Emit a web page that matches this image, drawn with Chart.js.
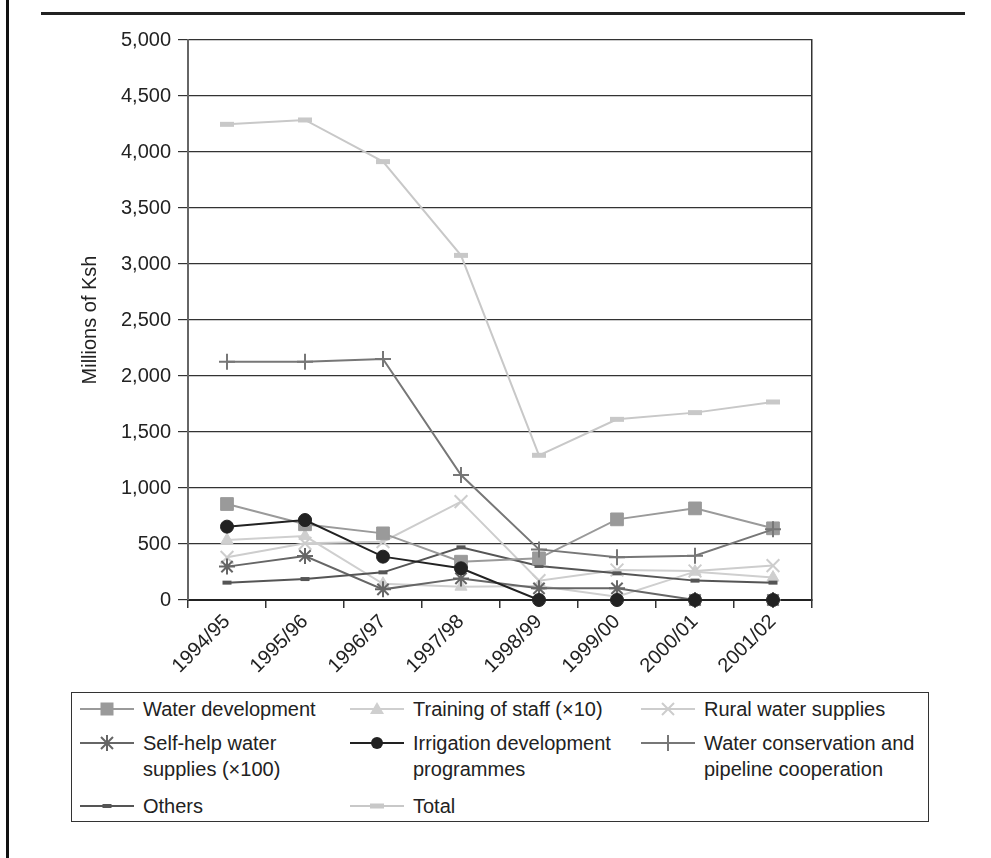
<!DOCTYPE html>
<html>
<head>
<meta charset="utf-8">
<script src="https://cdn.jsdelivr.net/npm/chart.js@4.4.1/dist/chart.umd.min.js"></script>
<style>
    body { margin: 0; background: #fff; font-family: "Liberation Sans", Arial, sans-serif; color: #222; }
    #wrap { position: relative; width: 991px; height: 858px; overflow: hidden; }
    #chartBox { position: absolute; left: 0; top: 0; }
    #topRule { position: absolute; left: 41px; top: 12px; width: 924px; height: 0; border-top: 3px solid #222; }
    #leftRule { position: absolute; left: 6px; top: 0; width: 3px; height: 858px; background: #111; }
    #legend { position: absolute; left: 71px; top: 692px; width: 856px; height: 128px; border: 1.5px solid #333; }
    .item { position: absolute; display: flex; align-items: flex-start; font-size: 20px; line-height: 26px; }
    .item svg { flex: none; margin-top: 3px; }
    .item span { margin-left: 9px; white-space: nowrap; }
</style>
</head>
<body>
<div id="wrap">
    <div id="leftRule"></div>
    <div id="topRule"></div>
    <canvas id="chartBox" width="991" height="690"></canvas>
    <div id="legend"></div>
</div>
<script>
const years = ["1994/95", "1995/96", "1996/97", "1997/98", "1998/99", "1999/00", "2000/01", "2001/02"];

const waterDevelopment = [857, 676, 595, 342, 372, 720, 818, 640];
const trainingOfStaff = [536, 571, 145, 119, 125, 30, 253, 200];
const ruralWaterSupplies = [381, 506, 521, 878, 173, 268, 259, 307];
const selfHelpSupplies = [298, 393, 95, 193, 104, 104, 0, 0];
const irrigationProgrammes = [655, 714, 387, 283, 0, 0, 0, 0];
const waterConservation = [2128, 2128, 2152, 1116, 452, 381, 396, 631];
const others = [155, 187, 247, 470, 304, 238, 173, 155];
const total = [4247, 4286, 3914, 3077, 1292, 1613, 1673, 1768];

// styles and legend slots, kept apart from the values
const series = [
    { label: ["Water development"], data: waterDevelopment, color: "#9a9a9a", shape: "rect", r: 9, bw: 1, order: 3, col: 0, row: 0 },
    { label: ["Training of staff (\u00d710)"], data: trainingOfStaff, color: "#cfcfcf", shape: "triangle", r: 7, bw: 1, order: 7, col: 1, row: 0 },
    { label: ["Rural water supplies"], data: ruralWaterSupplies, color: "#cdcdcd", shape: "crossRot", r: 9, bw: 2, order: 6, col: 2, row: 0 },
    { label: ["Self-help water", "supplies (\u00d7100)"], data: selfHelpSupplies, color: "#666666", shape: "star", r: 8, bw: 2, order: 5, col: 0, row: 1 },
    { label: ["Irrigation development", "programmes"], data: irrigationProgrammes, color: "#222222", shape: "circle", r: 6.5, bw: 1, order: 1, col: 1, row: 1 },
    { label: ["Water conservation and", "pipeline cooperation"], data: waterConservation, color: "#777777", shape: "cross", r: 8, bw: 2, order: 2, col: 2, row: 1 },
    { label: ["Others"], data: others, color: "#555555", shape: "line", r: 4.5, bw: 4, order: 4, col: 0, row: 2 },
    { label: ["Total"], data: total, color: "#c8c8c8", shape: "line", r: 7, bw: 5, order: 8, col: 1, row: 2 }
];

const FONT = "'Liberation Sans', Arial, sans-serif";

new Chart(document.getElementById("chartBox"), {
    type: "line",
    data: {
        labels: years,
        datasets: series.map(s => ({
            label: s.label.join(" "),
            data: s.data,
            borderColor: s.color,
            borderWidth: 2,
            backgroundColor: s.color,
            pointStyle: s.shape,
            pointRadius: s.r,
            pointBorderWidth: s.bw,
            pointBorderColor: s.color,
            pointBackgroundColor: s.color,
            tension: 0,
            clip: false,
            order: s.order
        }))
    },
    options: {
        responsive: false,
        animation: false,
        layout: { padding: { left: 74, right: 179, top: 40, bottom: 0 } },
        plugins: { legend: { display: false }, tooltip: { enabled: false } },
        scales: {
            x: {
                offset: true,
                afterFit: s => { s.height = 90; },
                grid: { offset: true, drawOnChartArea: false, tickLength: 8, color: "#333", lineWidth: 1.5 },
                border: { color: "#222", width: 2 },
                ticks: { minRotation: 45, maxRotation: 45, padding: 2, color: "#222", font: { family: FONT, size: 20 } }
            },
            y: {
                min: 0,
                max: 5000,
                afterFit: s => { s.width = 114; },
                grid: { color: "#333", lineWidth: 1.2, tickLength: 10 },
                border: { color: "#666", width: 2 },
                ticks: {
                    stepSize: 500,
                    padding: 7,
                    color: "#222",
                    font: { family: FONT, size: 20 },
                    callback: v => v.toLocaleString("en-US")
                },
                title: { display: true, text: "Millions of Ksh", color: "#222", font: { family: FONT, size: 20 }, padding: { top: 4, bottom: 0 } }
            },
            y2: {
                position: "right",
                min: 0,
                max: 5000,
                afterFit: s => { s.width = 0; },
                grid: { drawOnChartArea: false, drawTicks: false },
                border: { display: true, color: "#333", width: 1.5 },
                ticks: { display: false }
            }
        }
    }
});

// legend markers drawn as small svg pictures next to real text
function markerSvg(s) {
    const w = 54, h = 20, cx = 27, cy = 10;
    let mark = "";
    if (s.shape === "rect") {
        mark = `<rect x="${cx - 6.5}" y="${cy - 6.5}" width="13" height="13" fill="${s.color}"/>`;
    } else if (s.shape === "triangle") {
        mark = `<polygon points="${cx},${cy - 7} ${cx + 7},${cy + 5} ${cx - 7},${cy + 5}" fill="${s.color}"/>`;
    } else if (s.shape === "crossRot") {
        mark = `<path d="M${cx - 6} ${cy - 6}L${cx + 6} ${cy + 6}M${cx + 6} ${cy - 6}L${cx - 6} ${cy + 6}" stroke="${s.color}" stroke-width="2"/>`;
    } else if (s.shape === "star") {
        mark = `<path d="M${cx - 6} ${cy - 6}L${cx + 6} ${cy + 6}M${cx + 6} ${cy - 6}L${cx - 6} ${cy + 6}M${cx} ${cy - 8}L${cx} ${cy + 8}M${cx - 8} ${cy}L${cx + 8} ${cy}" stroke="${s.color}" stroke-width="2"/>`;
    } else if (s.shape === "circle") {
        mark = `<circle cx="${cx}" cy="${cy}" r="6" fill="${s.color}"/>`;
    } else if (s.shape === "cross") {
        mark = `<path d="M${cx} ${cy - 8}L${cx} ${cy + 8}" stroke="${s.color}" stroke-width="2"/>`;
    } else if (s.shape === "line") {
        mark = `<rect x="${cx - s.r}" y="${cy - s.bw / 2}" width="${s.r * 2}" height="${s.bw}" fill="${s.color}"/>`;
    }
    return `<svg width="${w}" height="${h}"><line x1="0" y1="${cy}" x2="${w}" y2="${cy}" stroke="${s.color}" stroke-width="2"/>${mark}</svg>`;
}

const colX = [8, 278, 569];
const rowY = [3, 37, 100];
const legend = document.getElementById("legend");
series.forEach(s => {
    const el = document.createElement("div");
    el.className = "item";
    el.style.left = colX[s.col] + "px";
    el.style.top = rowY[s.row] + "px";
    el.innerHTML = markerSvg(s) + "<span>" + s.label.join("<br>") + "</span>";
    legend.appendChild(el);
});
</script>
</body>
</html>
